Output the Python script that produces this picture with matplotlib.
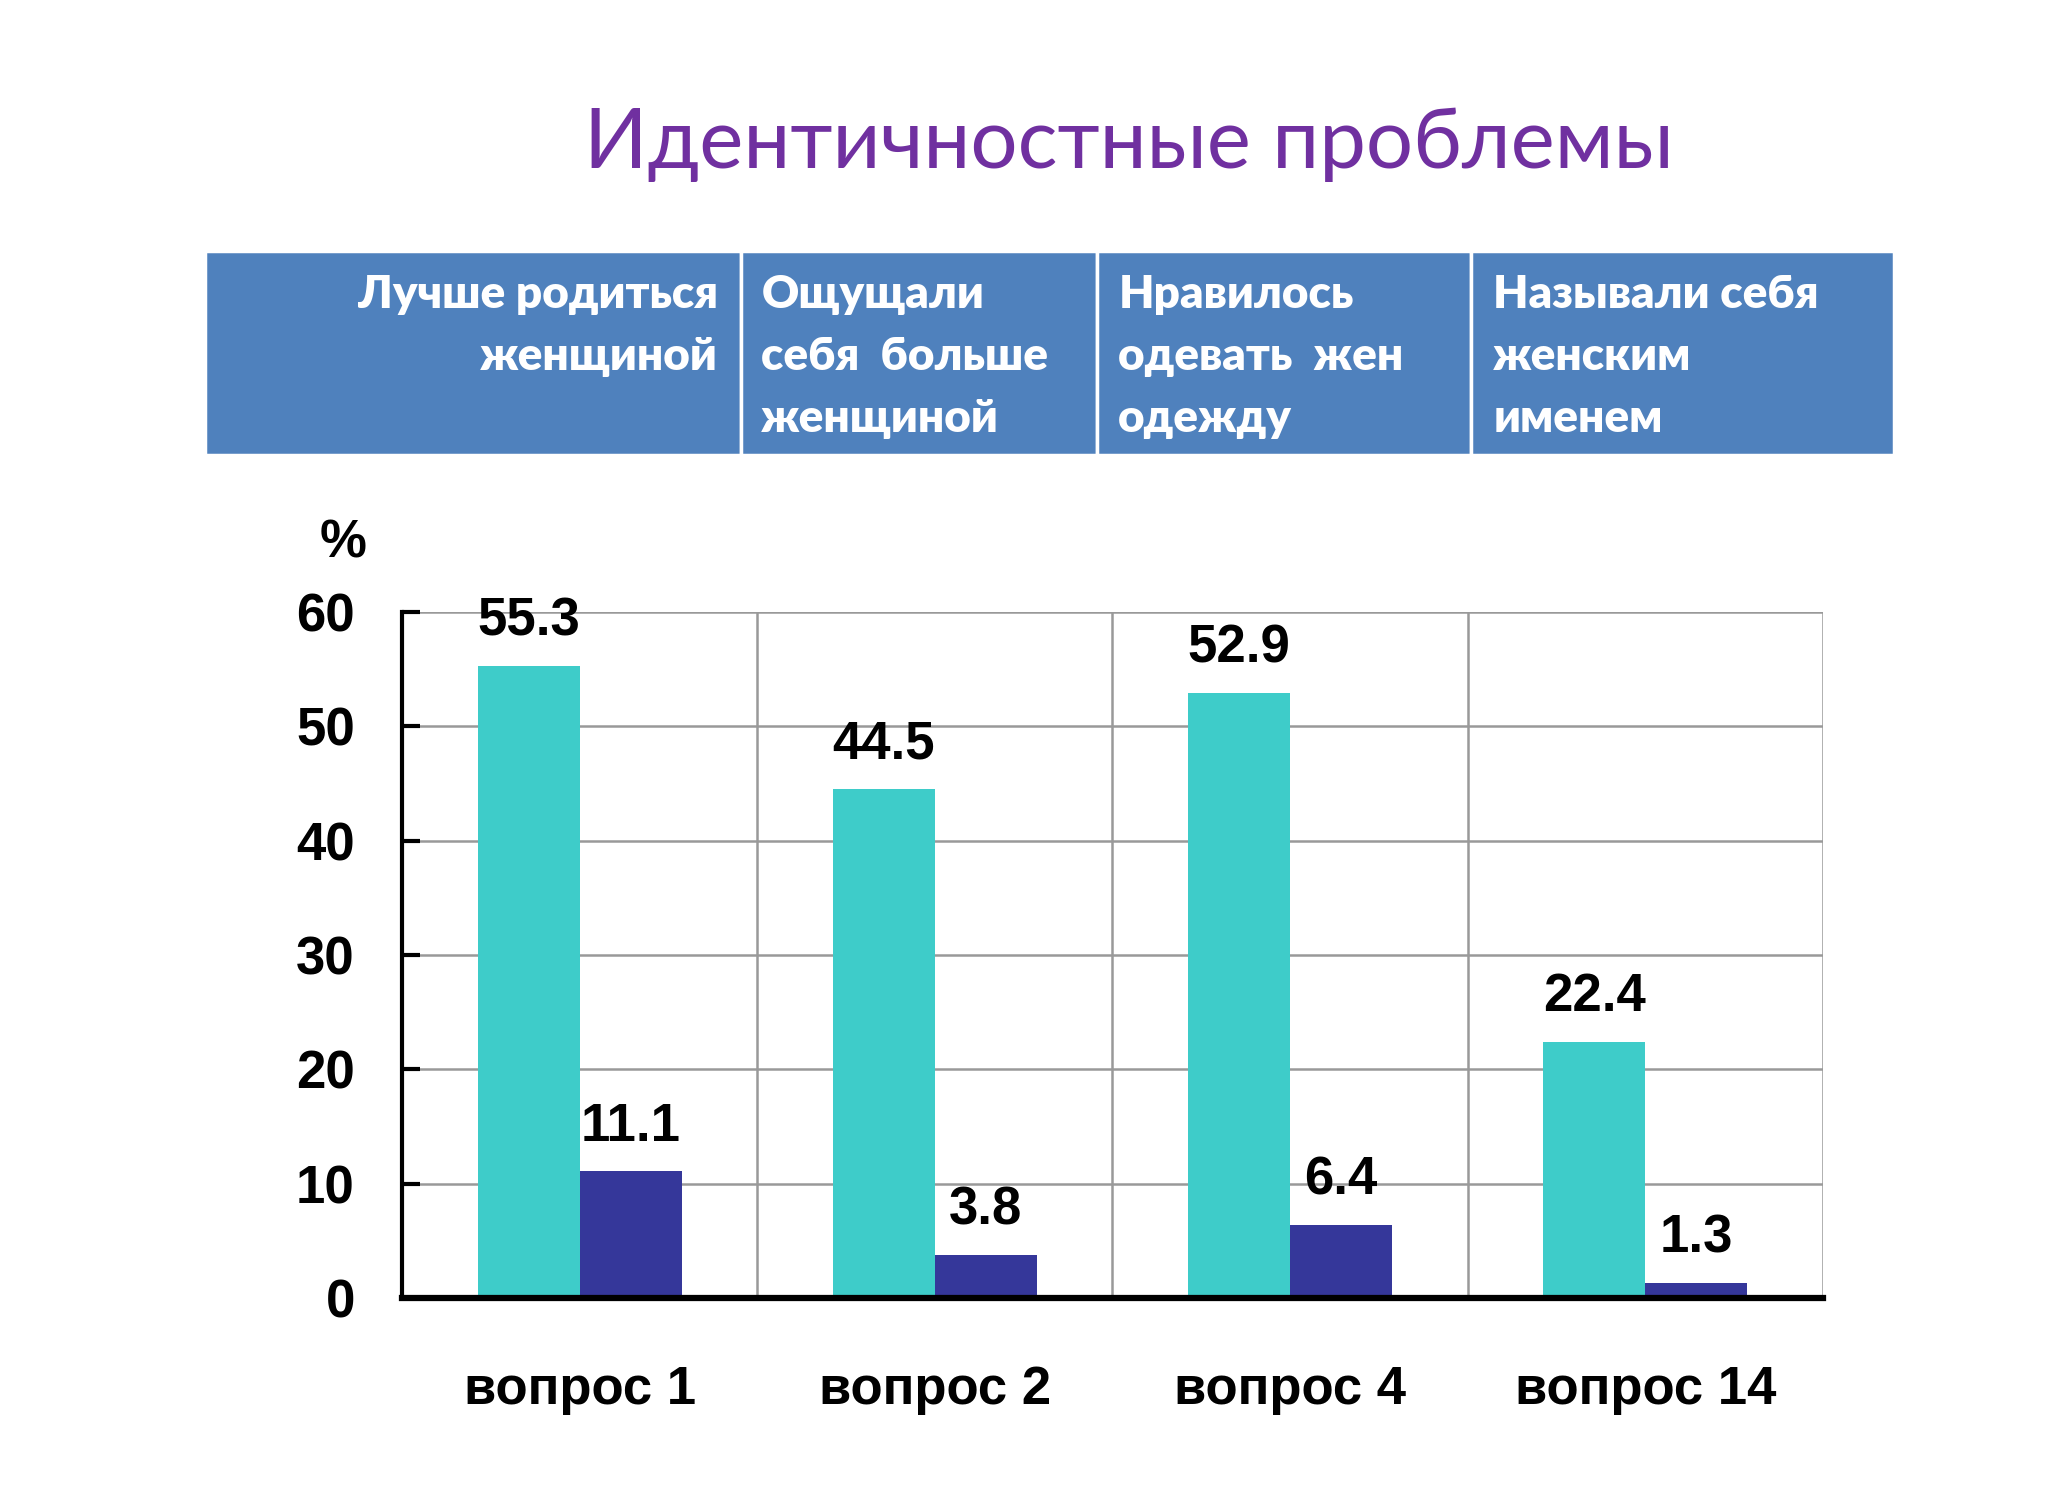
import matplotlib
matplotlib.use("Agg")
import matplotlib.pyplot as plt
from matplotlib import font_manager
from matplotlib.patches import Rectangle

# data
categories = ["вопрос 1", "вопрос 2", "вопрос 4", "вопрос 14"]
series_a = [55.3, 44.5, 52.9, 22.4]
series_b = [11.1, 3.8, 6.4, 1.3]
headers = ["Лучше родиться\nженщиной", "Ощущали\nсебя  больше\nженщиной",
           "Нравилось\nодевать  жен\nодежду", "Называли себя\nженским\nименем"]
title = "Идентичностные проблемы"


def pick(names):
    for n in names:
        try:
            font_manager.findfont(font_manager.FontProperties(family=n), fallback_to_default=False)
            return n
        except Exception:
            pass
    return "DejaVu Sans"


narrow = pick(["Liberation Sans Narrow", "Arial Narrow", "Liberation Sans"])
head_font = pick(["Lato", "Open Sans", "DejaVu Sans"])
title_font = pick(["Lato", "Open Sans", "DejaVu Sans"])

cyan = "#3ECCC9"
navy = "#35379A"
blue = "#4F81BD"

fig = plt.figure(figsize=(20.52, 15.06), dpi=100)

# title
fig.text(0.55, 0.904, title, ha="center", va="center", fontsize=60,
         color="#7030A0", family=title_font)

# header band
edges = [0.0999, 0.3611, 0.5346, 0.7169, 0.9230]
y0, y1 = 0.6979, 0.8333
for i in range(4):
    fig.patches.append(Rectangle((edges[i], y0), edges[i + 1] - edges[i], y1 - y0,
                                 transform=fig.transFigure, facecolor=blue,
                                 edgecolor="white", linewidth=2.5))
text_x = [0.350, 0.371, 0.545, 0.7277]
aligns = ["right", "left", "left", "left"]
for x, h, a in zip(text_x, headers, aligns):
    fig.text(x, 0.818, h, ha=a, va="top", fontsize=33, color="white",
             fontweight="heavy", family=head_font, linespacing=1.62,
             multialignment=a)

# chart
ax = fig.add_axes([0.1959, 0.1381, 0.8884 - 0.1959, 0.5936 - 0.1381])
x = list(range(len(categories)))
w = 0.287
ax.bar([i - w for i in x], series_a, width=w, align="edge", color=cyan, zorder=3)
ax.bar(x, series_b, width=w, align="edge", color=navy, zorder=3)

for i in x:
    ax.annotate(f"{series_a[i]}", (i - w / 2, series_a[i]), xytext=(0, 14),
                textcoords="offset points", ha="center", va="bottom",
                fontsize=38, fontweight="bold", family=narrow)
    ax.annotate(f"{series_b[i]}", (i + w / 2, series_b[i]), xytext=(0, 14),
                textcoords="offset points", ha="center", va="bottom",
                fontsize=38, fontweight="bold", family=narrow)

ax.set_xlim(-0.5, 3.5)
ax.set_ylim(0, 60)
ax.set_yticks(range(0, 61, 10))
ax.set_xticks(x)
ax.set_xticklabels(categories)
ax.set_xticks([i - 0.5 for i in range(5)] + [i for i in x], minor=True)
ax.grid(True, which="major", axis="y", color="#999999", linewidth=1.8, zorder=0)
ax.grid(True, which="minor", axis="x", color="#999999", linewidth=1.8, zorder=0)
ax.tick_params(axis="x", which="both", length=0, pad=48)
ax.tick_params(axis="y", direction="in", length=13, width=3, pad=34)
for lab in ax.get_xticklabels() + ax.get_yticklabels():
    lab.set_fontsize(38)
    lab.set_fontweight("bold")
    lab.set_family(narrow)

for s in ["top", "right"]:
    ax.spines[s].set_visible(False)
ax.spines["left"].set_linewidth(3)
ax.spines["bottom"].set_linewidth(4.5)
ax.spines["left"].set_zorder(5)
ax.spines["bottom"].set_zorder(5)

fig.text(343 / 2052, 1 - 543 / 1506, "%", ha="center", va="center",
         fontsize=38, fontweight="bold", family=narrow)

fig.savefig("out.png", dpi=100)
